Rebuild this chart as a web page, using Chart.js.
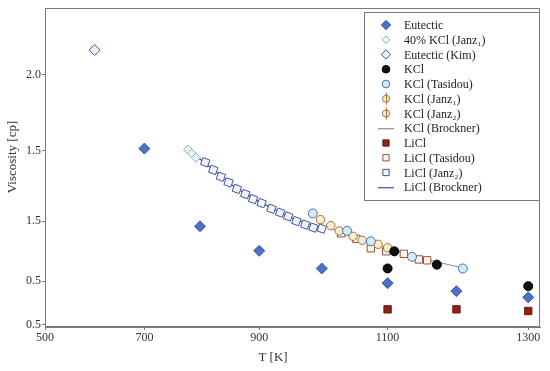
<!DOCTYPE html>
<html>
<head>
<meta charset="utf-8">
<script src="https://cdn.jsdelivr.net/npm/chart.js@4/dist/chart.umd.min.js"></script>
<style>
  body { margin: 0; background: #fff; }
  canvas { display: block; }
</style>
</head>
<body>
<canvas id="chart" width="550" height="371"></canvas>
<script>
// Data (T in K, viscosity in cp)
const eutecticT = [700, 800, 900, 1000, 1100, 1200, 1300];
const eutecticVisc = [1.558, 1.092, 0.945, 0.839, 0.751, 0.703, 0.666];

const kcl40JanzT = [779, 786, 793];
const kcl40JanzVisc = [1.552, 1.528, 1.504];

const eutecticKimT = [604];
const eutecticKimVisc = [2.149];

const kclT = [1100, 1110, 1172, 1300];
const kclVisc = [0.839, 0.942, 0.862, 0.733];

const kclTasidouT = [986, 1039, 1075, 1136, 1209];
const kclTasidouVisc = [1.169, 1.065, 1.002, 0.909, 0.839];

const kclJanz1T = [998, 1014, 1027];
const kclJanz1Visc = [1.132, 1.096, 1.064];

const kclJanz2T = [1048, 1062, 1086, 1100];
const kclJanz2Visc = [1.032, 1.008, 0.984, 0.963];

const kclBrocknerT = [1000, 1050, 1100, 1150, 1210];
const kclBrocknerVisc = [1.098, 1.026, 0.960, 0.900, 0.841];

const liclT = [1100, 1200, 1300];
const liclVisc = [0.594, 0.594, 0.584];

const liclTasidouT = [1030, 1053, 1075, 1098, 1124, 1146, 1158];
const liclTasidouVisc = [1.050, 1.017, 0.960, 0.942, 0.927, 0.893, 0.888];

const liclJanz2T = [809, 823, 836, 849, 863, 877, 890, 904, 920, 934, 947, 960, 974, 987, 1000];
const liclJanz2Visc = [1.476, 1.430, 1.389, 1.355, 1.316, 1.285, 1.255, 1.231, 1.197, 1.174, 1.151, 1.123, 1.102, 1.084, 1.078];

const liclBrocknerT = [780, 820, 860, 900, 950, 1000];
const liclBrocknerVisc = [1.55, 1.44, 1.325, 1.24, 1.145, 1.08];

// Axis ticks as printed on the figure
const xTickValues = [500, 700, 900, 1100, 1300];
const xTickLabels = ['500', '700', '900', '1100', '1300'];
const yTickValues = [2.0, 1.546, 1.122, 0.763, 0.5];
const yTickLabels = ['2.0', '1.5', '1.5', '0.5', '0.5'];

const toPoints = (xs, ys) => xs.map((x, i) => ({ x: x, y: ys[i] }));

// The temperature axis of the figure is stretched towards high T: a power scale
class PowerScale extends Chart.LinearScale {
    getPixelForValue(value) {
      if (value === null || value === undefined) return NaN;
      const p = this.options.exponent;
      const a = Math.pow(this.min, p);
      const b = Math.pow(this.max, p);
      return this.getPixelForDecimal((Math.pow(value, p) - a) / (b - a));
    }
    getValueForPixel(pixel) {
      const p = this.options.exponent;
      const a = Math.pow(this.min, p);
      const b = Math.pow(this.max, p);
      return Math.pow(a + this.getDecimalForPixel(pixel) * (b - a), 1 / p);
    }
}
PowerScale.id = 'power';
PowerScale.defaults = { exponent: 1.5 };
Chart.register(PowerScale);

const serif = "'Liberation Serif', 'DejaVu Serif', serif";

// Frame, in-plot legend and axis titles
const decorations = {
    id: 'decorations',
    afterDraw(chart) {
      const { ctx, chartArea: a } = chart;
      ctx.save();
      ctx.strokeStyle = '#7a7a7a';
      ctx.lineWidth = 1;
      ctx.strokeRect(Math.round(a.left) + 0.5, Math.round(a.top) + 0.5,
                     Math.round(a.right - a.left) - 1, Math.round(a.bottom - a.top) - 1);

      // legend box
      const L = 364, T = 12, R = 540, B = 201;
      ctx.fillStyle = '#fff';
      ctx.fillRect(L, T, R - L, B - T);
      ctx.strokeStyle = '#7a7a7a';
      ctx.strokeRect(L + 0.5, T + 0.5, R - L - 1, B - T - 1);

      chart.data.datasets.forEach((ds, i) => {
        const y = 25 + i * 14.75;
        const x = 386;
        if (ds.showLine) {
          ctx.strokeStyle = ds.borderColor;
          ctx.lineWidth = 1.2;
          ctx.beginPath();
          ctx.moveTo(x - 8, y + 0.5);
          ctx.lineTo(x + 8, y + 0.5);
          ctx.stroke();
        } else {
          ctx.fillStyle = ds.backgroundColor;
          ctx.strokeStyle = ds.borderColor;
          ctx.lineWidth = ds.borderWidth;
          Chart.helpers.drawPoint(ctx, {
            pointStyle: ds.pointStyle,
            radius: ds.pointRadius * 0.85,
            borderWidth: ds.borderWidth,
            rotation: 0
          }, x, y);
          if (ds.errorBar) {
            ctx.beginPath();
            ctx.moveTo(x + 0.5, y - 6);
            ctx.lineTo(x + 0.5, y + 6);
            ctx.stroke();
          }
        }
        ctx.fillStyle = '#222';
        ctx.font = '12px ' + serif;
        ctx.textAlign = 'left';
        ctx.textBaseline = 'middle';
        ctx.fillText(ds.label, 404, y + 1);
      });

      // axis titles
      ctx.fillStyle = '#333';
      ctx.font = '13px ' + serif;
      ctx.textAlign = 'center';
      ctx.textBaseline = 'middle';
      ctx.fillText('T [K]', 273, 358);
      ctx.translate(13, 157);
      ctx.rotate(-Math.PI / 2);
      ctx.fillText('Viscosity [cp]', 0, 0);
      ctx.restore();
    }
};

document.addEventListener('DOMContentLoaded', function() {
    const ctx = document.getElementById('chart').getContext('2d');

    new Chart(ctx, {
      type: 'scatter',
      data: {
        datasets: [
          {
            label: 'Eutectic',
            data: toPoints(eutecticT, eutecticVisc),
            pointStyle: 'rectRot', pointRadius: 5.5,
            backgroundColor: '#4a70c8', borderColor: '#3557a8', borderWidth: 1,
          },
          {
            label: '40% KCl (Janz\u2081)',
            data: toPoints(kcl40JanzT, kcl40JanzVisc),
            pointStyle: 'rectRot', pointRadius: 4.5,
            backgroundColor: '#eef8f6', borderColor: '#7cb8b4', borderWidth: 1,
          },
          {
            label: 'Eutectic (Kim)',
            data: toPoints(eutecticKimT, eutecticKimVisc),
            pointStyle: 'rectRot', pointRadius: 5.5,
            backgroundColor: '#eaf2fb', borderColor: '#3d5a9c', borderWidth: 1,
          },
          {
            label: 'KCl',
            data: toPoints(kclT, kclVisc),
            pointStyle: 'circle', pointRadius: 4.5,
            backgroundColor: '#111', borderColor: '#000', borderWidth: 1,
          },
          {
            label: 'KCl (Tasidou)',
            data: toPoints(kclTasidouT, kclTasidouVisc),
            pointStyle: 'circle', pointRadius: 4.5,
            backgroundColor: '#d4eaf7', borderColor: '#3f74b0', borderWidth: 1,
          },
          {
            label: 'KCl (Janz\u2081)',
            data: toPoints(kclJanz1T, kclJanz1Visc),
            pointStyle: 'circle', pointRadius: 4.2,
            backgroundColor: '#f5efcf', borderColor: '#a8703c', borderWidth: 1,
            errorBar: true,
          },
          {
            label: 'KCl (Janz\u2082)',
            data: toPoints(kclJanz2T, kclJanz2Visc),
            pointStyle: 'circle', pointRadius: 4.2,
            backgroundColor: '#f5efcf', borderColor: '#a8703c', borderWidth: 1,
            errorBar: true,
          },
          {
            label: 'KCl (Brockner)',
            data: toPoints(kclBrocknerT, kclBrocknerVisc),
            showLine: true, pointRadius: 0, order: 2,
            borderColor: '#9a8c84', borderWidth: 1,
          },
          {
            label: 'LiCl',
            data: toPoints(liclT, liclVisc),
            pointStyle: 'rect', pointRadius: 5.2,
            backgroundColor: '#8a2416', borderColor: '#6b1a10', borderWidth: 1,
          },
          {
            label: 'LiCl (Tasidou)',
            data: toPoints(liclTasidouT, liclTasidouVisc),
            pointStyle: 'rect', pointRadius: 5.2,
            backgroundColor: '#fbf4ef', borderColor: '#9c5030', borderWidth: 1,
          },
          {
            label: 'LiCl (Janz\u2082)',
            data: toPoints(liclJanz2T, liclJanz2Visc),
            pointStyle: 'rect', pointRadius: 5.2, pointRotation: 20,
            backgroundColor: '#f2f5fb', borderColor: '#45519c', borderWidth: 1,
          },
          {
            label: 'LiCl (Brockner)',
            data: toPoints(liclBrocknerT, liclBrocknerVisc),
            showLine: true, pointRadius: 0, order: 2,
            borderColor: '#3b4aa0', borderWidth: 1.2,
          }
        ]
      },
      options: {
        responsive: false,
        animation: false,
        layout: {
          padding: { top: 7, right: 10, left: 0, bottom: 0 }
        },
        scales: {
          x: {
            type: 'power',
            exponent: 1.5,
            min: 500,
            max: 1316,
            afterBuildTicks: (scale) => {
              scale.ticks = xTickValues.map(v => ({ value: v }));
            },
            afterFit: (scale) => { scale.height = 44; },
            grid: { display: true, drawOnChartArea: false, tickLength: 3, color: '#7a7a7a' },
            border: { color: '#7a7a7a' },
            ticks: {
              color: '#333',
              padding: 1,
              maxRotation: 0,
              autoSkip: false,
              font: { family: serif, size: 12 },
              callback: (value, index) => xTickLabels[index],
            },
          },
          y: {
            type: 'linear',
            min: 0.488,
            max: 2.4,
            afterBuildTicks: (scale) => {
              scale.ticks = yTickValues.map(v => ({ value: v }));
            },
            afterFit: (scale) => { scale.width = 45; },
            grid: { display: true, drawOnChartArea: false, tickLength: 3, color: '#7a7a7a' },
            border: { color: '#7a7a7a' },
            ticks: {
              color: '#333',
              padding: 1,
              autoSkip: false,
              font: { family: serif, size: 12 },
              callback: (value, index) => yTickLabels[index],
            },
          },
        },
        plugins: {
          legend: { display: false },
          tooltip: { enabled: false },
        },
      },
      plugins: [decorations]
    });
});
</script>
</body>
</html>
